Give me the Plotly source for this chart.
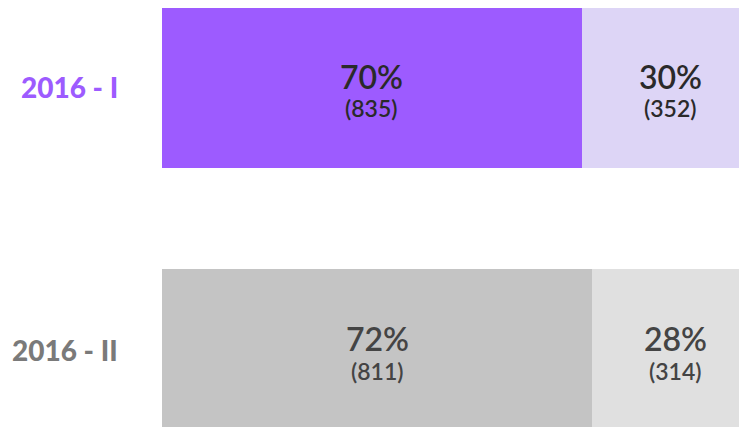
import plotly.graph_objects as go

categories = ["2016 - I", "2016 - II"]
first_counts = [835, 811]
second_counts = [352, 314]
first_pct_labels = ["70%", "72%"]
second_pct_labels = ["30%", "28%"]

first_colors = ["#9D5BFF", "#C4C4C4"]
second_colors = ["#DDD5F6", "#E0E0E0"]
label_colors = ["#9D5BFF", "#7A7A7A"]
text_colors = ["#2A2A2A", "#444444"]

ypos = [1, 0]
totals = [a + b for a, b in zip(first_counts, second_counts)]
first_share = [100 * a / t for a, t in zip(first_counts, totals)]
second_share = [100 * b / t for b, t in zip(second_counts, totals)]

fig = go.Figure()
fig.add_trace(go.Bar(y=ypos, x=first_share, orientation="h", width=0.615,
                     marker=dict(color=first_colors, line=dict(width=0)),
                     hoverinfo="skip"))
fig.add_trace(go.Bar(y=ypos, x=second_share, orientation="h", width=0.615,
                     marker=dict(color=second_colors, line=dict(width=0)),
                     hoverinfo="skip"))

annotations = []
for i in range(len(categories)):
    mids = [first_share[i] / 2, first_share[i] + second_share[i] / 2]
    pcts = [first_pct_labels[i], second_pct_labels[i]]
    cnts = [first_counts[i], second_counts[i]]
    for m, p, c in zip(mids, pcts, cnts):
        annotations.append(dict(x=m, y=ypos[i], xref="x", yref="y", text=p,
                                showarrow=False, yshift=11,
                                font=dict(family="Lato", size=32, color=text_colors[i], weight=600)))
        annotations.append(dict(x=m, y=ypos[i], xref="x", yref="y", text="(%d)" % c,
                                showarrow=False, yshift=-21,
                                font=dict(family="Lato", size=23, color=text_colors[i], weight=600)))
    annotations.append(dict(x=0, y=ypos[i], xref="paper", yref="y", text=categories[i],
                            showarrow=False, xanchor="right", xshift=-42, yshift=0,
                            font=dict(family="Lato", size=28, color=label_colors[i], weight=900)))

fig.update_layout(
    width=747, height=427,
    margin=dict(l=154, r=0, t=0, b=0),
    barmode="stack", showlegend=False,
    plot_bgcolor="white", paper_bgcolor="white",
    xaxis=dict(range=[0, 99.33], visible=False, fixedrange=True),
    yaxis=dict(range=[-0.3263, 1.3034], visible=False, fixedrange=True),
    annotations=annotations,
)
fig.write_html("out.html")
